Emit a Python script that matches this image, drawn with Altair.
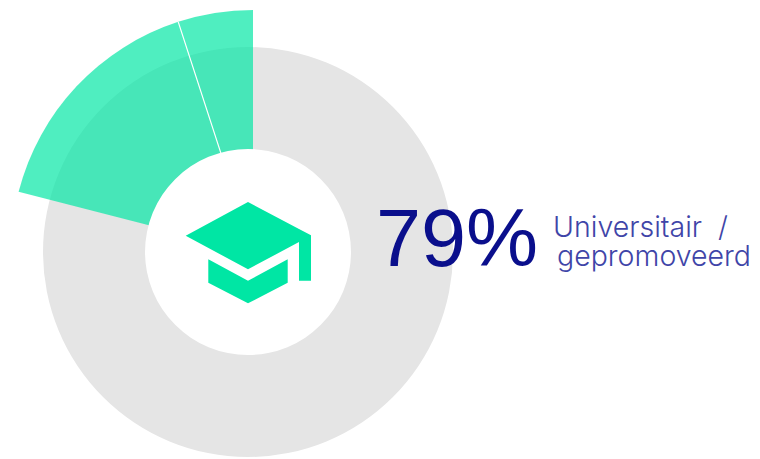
import altair as alt
import pandas as pd

# share of the ring, in percent
share_start = [79, 95]
share_end = [95, 100]
split = [95]
headline = "79%"
label_lines = ["Universitair \u00a0/", "gepromoveerd"]

# graduation-cap icon profile (image pixels)
cap_x = [185.7, 248, 299, 299.01, 311]
cap_top = [235.7, 202, 229, 229, 235.3]
cap_bot = [235.7, 269.3, 242, 280.7, 280.7]
base_x = [208.3, 248, 287.7]
base_top = [259.3, 280.7, 259.3]
base_bot = [282.7, 303.3, 282.7]

GREEN = "#00E6A4"
W, H = 744, 451
xs = alt.Scale(domain=[8, 752], range=[0, W], nice=False, zero=False)
ys = alt.Scale(domain=[8, 459], range=[0, H], nice=False, zero=False)
ts = alt.Scale(domain=[0, 100], range=[0, 6.283185307])

def X(v): return alt.X(datum=v, scale=xs, axis=None)
def Y(v): return alt.Y(datum=v, scale=ys, axis=None)

full = pd.DataFrame({"s": [0], "e": [100]})
gray = alt.Chart(full).mark_arc(color="#E5E5E5", radius=205, radius2=0).encode(
    x=X(248), y=Y(252),
    theta=alt.Theta("s:Q", scale=ts, stack=None), theta2="e:Q")
hole = alt.Chart(full).mark_arc(color="#FFFFFF", radius=103, radius2=0).encode(
    x=X(248), y=Y(252),
    theta=alt.Theta("s:Q", scale=ts, stack=None), theta2="e:Q")
wedges = alt.Chart(pd.DataFrame({"s": share_start, "e": share_end})).mark_arc(
    color=GREEN, opacity=0.69, radius=242, radius2=0).encode(
    x=X(253), y=Y(252),
    theta=alt.Theta("s:Q", scale=ts, stack=None), theta2="e:Q")
sep = alt.Chart(pd.DataFrame({"s": split, "e": split})).mark_arc(
    fillOpacity=0, stroke="#FFFFFF", strokeWidth=1.2, radius=242, radius2=100).encode(
    x=X(253), y=Y(252),
    theta=alt.Theta("s:Q", scale=ts, stack=None), theta2="e:Q")

def area(xv, t, b):
    d = pd.DataFrame({"px": xv, "top": t, "bot": b})
    return alt.Chart(d).mark_area(color=GREEN, opacity=1, orient="vertical").encode(
        x=alt.X("px:Q", scale=xs, axis=None),
        y=alt.Y("top:Q", scale=ys, axis=None, stack=None),
        y2=alt.Y2("bot:Q"))

big = alt.Chart(pd.DataFrame({"t": [headline]})).mark_text(
    font="Liberation Sans", fontSize=81, fontWeight=400, color="#0A0F8C", align="left", baseline="alphabetic"
).encode(x=X(376), y=Y(266), text="t:N")
l1 = alt.Chart(pd.DataFrame({"t": [label_lines[0]]})).mark_text(
    font="Inter", fontSize=28.5, fontWeight=300, color="#3F45A8", align="left", baseline="alphabetic"
).encode(x=X(553), y=Y(237), text="t:N")
l2 = alt.Chart(pd.DataFrame({"t": [label_lines[1]]})).mark_text(
    font="Inter", fontSize=28.5, fontWeight=300, color="#3F45A8", align="left", baseline="alphabetic"
).encode(x=X(557), y=Y(266), text="t:N")

chart = alt.layer(gray, wedges, sep, hole, area(cap_x, cap_top, cap_bot),
                  area(base_x, base_top, base_bot), big, l1, l2).properties(
    width=W, height=H, padding=0, background="#FFFFFF"
).configure_view(stroke=None)

chart.save("out.html", embed_options={"renderer": "svg", "actions": False})
